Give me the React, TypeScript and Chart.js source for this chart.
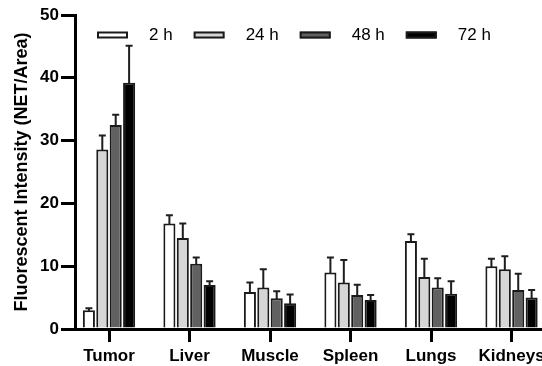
import React, { useEffect, useRef } from "react";
import { Chart, registerables } from "chart.js";

Chart.register(...registerables);

const categories = ["Tumor", "Liver", "Muscle", "Spleen", "Lungs", "Kidneys"];
const seriesLabels = ["2 h", "24 h", "48 h", "72 h"];
const h2 = [3.0, 16.8, 5.9, 9.0, 14.0, 10.0];
const h24 = [28.6, 14.5, 6.6, 7.4, 8.3, 9.5];
const h48 = [32.5, 10.4, 4.9, 5.4, 6.6, 6.2];
const h72 = [39.2, 7.0, 4.1, 4.6, 5.6, 5.0];
const err2 = [0.3, 1.3, 1.5, 2.4, 1.1, 1.2];
const err24 = [2.2, 2.3, 2.9, 3.6, 2.9, 2.1];
const err48 = [1.6, 1.0, 1.1, 1.65, 1.5, 2.6];
const err72 = [5.9, 0.6, 1.4, 0.8, 2.0, 1.2];
const yTicks = [0, 10, 20, 30, 40, 50];

const seriesValues = [h2, h24, h48, h72];
const seriesErrors = [err2, err24, err48, err72];
const fills = ["#ffffff", "#d6d6d6", "#616161", "#000000"];
const FONT = "Arial, 'Liberation Sans', sans-serif";

const errorBarPlugin = {
  id: "errorBars",
  afterDatasetsDraw(chart: any) {
    const ctx = chart.ctx;
    const y = chart.scales.y;
    ctx.save();
    ctx.strokeStyle = "#1e1e1e";
    ctx.lineWidth = 2;
    chart.data.datasets.forEach((ds: any, i: number) => {
      const meta = chart.getDatasetMeta(i);
      meta.data.forEach((bar: any, j: number) => {
        const v = ds.data[j].y;
        const e = ds.errors[j];
        const top = y.getPixelForValue(v + e);
        ctx.beginPath();
        ctx.moveTo(bar.x, bar.y + 1);
        ctx.lineTo(bar.x, top);
        ctx.moveTo(bar.x - 3.5, top);
        ctx.lineTo(bar.x + 3.5, top);
        ctx.stroke();
      });
    });
    ctx.restore();
  },
};

const legendPlugin = {
  id: "customLegend",
  afterDraw(chart: any) {
    const ctx = chart.ctx;
    const area = chart.chartArea;
    ctx.save();
    ctx.font = `17px ${FONT}`;
    ctx.textBaseline = "middle";
    ctx.fillStyle = "#000";
    let x = area.left + 22;
    const cy = area.top + 20;
    chart.data.datasets.forEach((ds: any) => {
      ctx.fillStyle = ds.backgroundColor;
      ctx.fillRect(x, cy - 3.5, 31, 7);
      ctx.strokeStyle = "#1a1a1a";
      ctx.lineWidth = 2;
      ctx.strokeRect(x + 1, cy - 2.5, 29, 5);
      x += 31 + 21;
      ctx.fillStyle = "#000";
      ctx.fillText(ds.label, x, cy);
      x += ctx.measureText(ds.label).width + 21;
    });
    ctx.restore();
  },
};

export default function App() {
  const canvasRef = useRef<HTMLCanvasElement | null>(null);

  useEffect(() => {
    if (!canvasRef.current) return;
    const chart = new Chart(canvasRef.current, {
      type: "bar",
      data: {
        datasets: seriesLabels.map((label, i) => ({
          label,
          data: seriesValues[i].map((v, j) => ({ x: j, y: v })),
          errors: seriesErrors[i],
          backgroundColor: fills[i],
          borderColor: "#1a1a1a",
          borderWidth: 2,
          categoryPercentage: 0.666,
          barPercentage: 0.9,
        })) as any,
      },
      options: {
        animation: false,
        responsive: true,
        maintainAspectRatio: false,
        layout: { padding: { top: 15, left: 0, right: 0, bottom: 0 } },
        plugins: {
          legend: { display: false },
          tooltip: { enabled: false },
        },
        scales: {
          x: {
            type: "linear",
            offset: false,
            min: -0.4224,
            max: 6.099,
            afterBuildTicks: (scale: any) => {
              scale.ticks = categories.map((_, i) => ({ value: i }));
            },
            afterFit: (scale: any) => {
              scale.height = 37;
            },
            grid: {
              display: true,
              offset: false,
              drawOnChartArea: false,
              drawTicks: true,
              tickLength: 13,
              lineWidth: 3,
              color: "#000",
            },
            border: { display: true, width: 3, color: "#000" },
            ticks: {
              autoSkip: false,
              maxRotation: 0,
              padding: 4,
              color: "#000",
              font: { family: FONT, size: 17, weight: "bold" },
              callback: (v: any) => categories[v] ?? "",
            },
          },
          y: {
            min: 0,
            max: 50,
            afterBuildTicks: (scale: any) => {
              scale.ticks = yTicks.map((v) => ({ value: v }));
            },
            afterFit: (scale: any) => {
              scale.width = 75;
            },
            grid: {
              display: true,
              drawOnChartArea: false,
              drawTicks: true,
              tickLength: 14,
              lineWidth: 3,
              color: "#000",
            },
            border: { display: true, width: 3, color: "#000" },
            ticks: {
              padding: 2,
              color: "#000",
              font: { family: FONT, size: 17, weight: "bold" },
            },
            title: {
              display: true,
              text: "Fluorescent Intensity (NET/Area)",
              color: "#000",
              font: { family: FONT, size: 18, weight: "bold" },
              padding: { top: 11, bottom: 0 },
            },
          },
        },
      },
      plugins: [errorBarPlugin, legendPlugin],
    });
    return () => chart.destroy();
  }, []);

  return (
    <div style={{ position: "absolute", left: 0, top: 0, width: 542, height: 366, overflow: "hidden", background: "#fff" }}>
      <div style={{ position: "relative", width: 600, height: 366 }}>
        <canvas ref={canvasRef} />
      </div>
    </div>
  );
}
